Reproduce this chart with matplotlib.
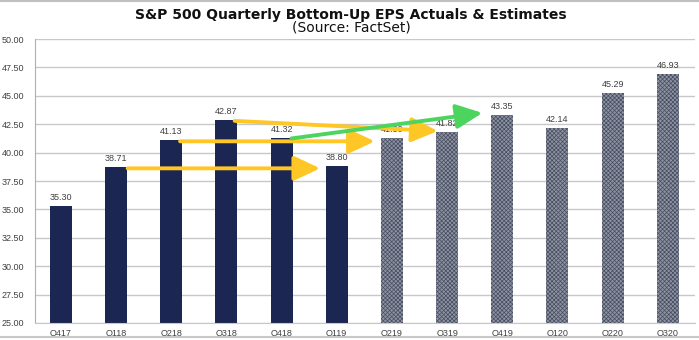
import matplotlib.pyplot as plt
import numpy as np

plt.rcParams['font.family'] = ['Liberation Sans', 'DejaVu Sans']

# EPS by quarter: reported actuals, then estimates
actual_quarters = ['Q417', 'Q118', 'Q218', 'Q318', 'Q418', 'Q119']
actual_eps = [35.30, 38.71, 41.13, 42.87, 41.32, 38.80]
estimate_quarters = ['Q219', 'Q319', 'Q419', 'Q120', 'Q220', 'Q320']
estimate_eps = [41.30, 41.82, 43.35, 42.14, 45.29, 46.93]

# year-over-year comparison arrows: (start index, start eps, end index, end eps, colour)
arrows = [
    (1.21, 38.62, 4.70, 38.62, '#FFC726'),
    (2.16, 41.00, 5.69, 41.00, '#FFC726'),
    (3.15, 42.80, 6.83, 41.90, '#FFC726'),
    (4.18, 41.25, 7.64, 43.50, '#4CD45E'),
]

quarters = actual_quarters + estimate_quarters
x_act = np.arange(len(actual_quarters))
x_est = np.arange(len(actual_quarters), len(quarters))

fig = plt.figure(figsize=(6.99, 3.40), dpi=100)
ax = fig.add_axes([0.050, 0.050, 0.944, 0.835])

grid_c = '#c8c8c8'
ax.set_axisbelow(True)
ax.yaxis.grid(True, color=grid_c, lw=1.0)

ax.bar(x_act, actual_eps, width=0.40, color='#1B2752', zorder=2)
plt.rcParams['hatch.linewidth'] = 0.5
ax.bar(x_est, estimate_eps, width=0.40, facecolor='#8e93a2', edgecolor='#454c60',
       hatch='xxxxxxxx', lw=0, zorder=2)

for xi, v in zip(list(x_act) + list(x_est), actual_eps + estimate_eps):
    ax.text(xi, v + 0.35, f'{v:.2f}', ha='center', va='bottom', fontsize=6.5,
            color='#404040', zorder=3)

for x0, y0, x1, y1, c in arrows:
    ax.annotate('', xy=(x1, y1), xytext=(x0, y0), zorder=4,
                arrowprops=dict(arrowstyle='-|>,head_length=1.6,head_width=0.75',
                                color=c, lw=2.8, shrinkA=0, shrinkB=0))

ax.set_xlim(-0.47, 11.49)
ax.set_ylim(25, 50)
ax.set_yticks(np.arange(25, 50.01, 2.5))
ax.set_yticklabels([f'{t:.2f}' for t in np.arange(25, 50.01, 2.5)])
ax.set_xticks(np.arange(len(quarters)))
ax.set_xticklabels(quarters)
ax.tick_params(axis='both', length=0, labelsize=6.5, labelcolor='#404040')
ax.tick_params(axis='y', pad=8)
ax.tick_params(axis='x', pad=4)

for side in ['top', 'right']:
    ax.spines[side].set_visible(False)
ax.spines['left'].set_color('#b0b0b0')
ax.spines['bottom'].set_color(grid_c)

fig.text(0.502, 0.957, 'S&P 500 Quarterly Bottom-Up EPS Actuals & Estimates',
         ha='center', va='center', fontsize=10, fontweight='bold',
         family='DejaVu Sans', color='#111111')
fig.text(0.502, 0.918, '(Source: FactSet)', ha='center', va='center',
         fontsize=10, family='DejaVu Sans', color='#111111')

# frame lines above and below
fig.add_artist(plt.Line2D([0, 1], [0.998, 0.998], color='#c0c0c0', lw=1.5))
fig.add_artist(plt.Line2D([0, 1], [0.008, 0.008], color='#c8c8c8', lw=1.5))

fig.savefig('out.png', dpi=100)
